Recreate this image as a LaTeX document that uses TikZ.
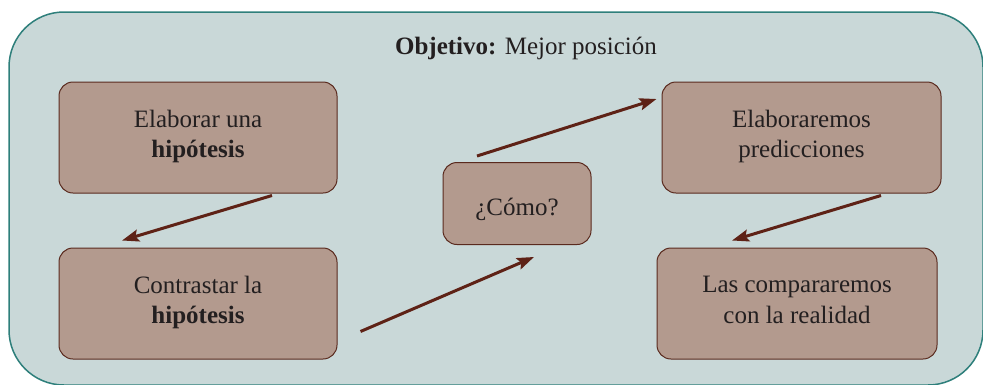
\documentclass[tikz,border=0pt]{standalone}
\usepackage{fontspec}
\setmainfont{Liberation Serif}
\usetikzlibrary{positioning, arrows.meta}

\definecolor{fondo}{HTML}{C9D8D8}
\definecolor{borde}{HTML}{2E7F7B}
\definecolor{caja}{HTML}{B39A8E}
\definecolor{cajaborde}{HTML}{5A2A1E}
\definecolor{flecha}{HTML}{5E2216}
\definecolor{texto}{HTML}{231F20}

\newcommand{\puntalarriba}{\rule{0pt}{30pt}}
\newcommand{\puntalabajo}{\rule[-7pt]{0pt}{7pt}}

\begin{document}
\begin{tikzpicture}[x=1pt, y=1pt, node distance=166pt, on grid, >={Stealth[length=17pt, width=12pt, inset=3pt]},
    paso/.style={draw=cajaborde, fill=caja, line width=1pt, rounded corners=14pt,
        minimum width=278pt, minimum height=111pt, align=center, text=texto,
        font=\fontsize{25}{30.5}\selectfont,
        execute at begin node=\puntalarriba, execute at end node=\puntalabajo},
    flechita/.style={->, draw=flecha, line width=3pt}]
    \useasboundingbox (0,0) rectangle (983,-384);

    % Background
    \draw[draw=borde, fill=fondo, line width=1.5pt, rounded corners=55pt] (9,-12) rectangle (983,-385);
    \node[anchor=base, text=texto, font=\fontsize{25}{30.5}\selectfont] (obj) at (526,-54) {\textbf{Objetivo:} Mejor posición};

    % Nodes
    \node[paso] (hip) at (198,-137.5) {Elaborar una\\\textbf{hipótesis}};
    \node[paso] (con) [below=of hip] {Contrastar la\\\textbf{hipótesis}};
    \node[paso, minimum width=148pt, minimum height=82pt] (como) at (517,-203.5) {¿Cómo?};
    \node[paso, minimum width=279pt] (pre) at (801.5,-137.5) {Elaboraremos\\predicciones};
    \node[paso, minimum width=280pt] (real) [below=of pre, xshift=-4.5pt] {Las compararemos\\con la realidad};

    % Transitions
    \draw[flechita] ([xshift=74pt, yshift=-2pt]hip.south) -- ([xshift=-76pt, yshift=7pt]con.north);
    \draw[flechita] ([xshift=23pt, yshift=-28pt]con.east) -- ([xshift=17pt, yshift=-12pt]como.south);
    \draw[flechita] ([xshift=-40pt, yshift=6pt]como.north) -- ([xshift=-5pt, yshift=38.5pt]pre.west);
    \draw[flechita] ([xshift=79.5pt, yshift=-2pt]pre.south) -- ([xshift=-65pt, yshift=7pt]real.north);
\end{tikzpicture}
\end{document}
